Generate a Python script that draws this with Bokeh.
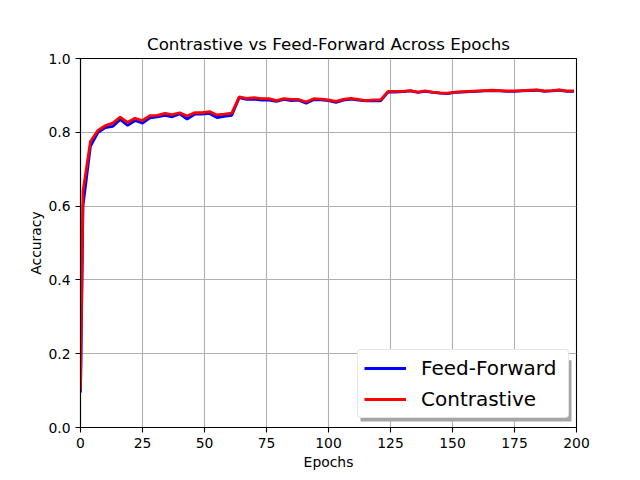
from bokeh.plotting import figure
from bokeh.models import (FixedTicker, PrintfTickFormatter, Legend, LegendItem,
                          BoxAnnotation, Range1d)
from bokeh.embed import file_html
from bokeh.resources import INLINE

# ---------------- data ----------------
epochs = [0, 1, 4, 7, 10, 13, 16, 19, 22, 25,
          28, 31, 34, 37, 40, 43, 46, 49, 52, 55, 58, 61,
          64, 67, 70, 73, 76, 79, 82, 85, 88, 91, 94, 97,
          100, 103, 106, 109, 112, 115, 118, 121, 124, 127, 130, 133,
          136, 139, 142, 145, 148, 151, 154, 157, 160, 163, 166, 169,
          172, 175, 178, 181, 184, 187, 190, 193, 196, 199]

feed_forward = [0.095, 0.600, 0.762, 0.799, 0.813, 0.816, 0.835, 0.819, 0.832, 0.825,
                0.839, 0.842, 0.846, 0.842, 0.850, 0.836, 0.849, 0.849, 0.851, 0.840, 0.843, 0.846,
                0.894, 0.889, 0.890, 0.887, 0.887, 0.884, 0.889, 0.886, 0.887, 0.879, 0.888, 0.888,
                0.886, 0.881, 0.887, 0.890, 0.887, 0.885, 0.886, 0.885, 0.909, 0.909, 0.910, 0.912,
                0.908, 0.911, 0.908, 0.906, 0.905, 0.908, 0.909, 0.910, 0.911, 0.912, 0.913, 0.912,
                0.911, 0.911, 0.912, 0.913, 0.914, 0.911, 0.912, 0.914, 0.911, 0.911]

contrastive = [0.100, 0.640, 0.775, 0.805, 0.818, 0.825, 0.841, 0.827, 0.838, 0.832,
               0.845, 0.846, 0.851, 0.848, 0.853, 0.844, 0.853, 0.853, 0.856, 0.847, 0.849, 0.852,
               0.896, 0.892, 0.894, 0.891, 0.891, 0.886, 0.891, 0.889, 0.889, 0.882, 0.891, 0.890,
               0.888, 0.884, 0.889, 0.892, 0.889, 0.886, 0.888, 0.888, 0.911, 0.911, 0.911, 0.913,
               0.909, 0.912, 0.909, 0.907, 0.906, 0.909, 0.910, 0.911, 0.912, 0.913, 0.914, 0.913,
               0.912, 0.912, 0.913, 0.914, 0.915, 0.912, 0.913, 0.915, 0.912, 0.912]

x_ticks = [0, 25, 50, 75, 100, 125, 150, 175, 200]
y_ticks = [0.0, 0.2, 0.4, 0.6, 0.8, 1.0]

title_text = "Contrastive vs Feed-Forward Across Epochs"
x_label = "Epochs"
y_label = "Accuracy"
series_names = ["Feed-Forward", "Contrastive"]
series_colors = ["#0000ff", "#ff0000"]

FONT = "DejaVu Sans"

p = figure(width=632, height=472, output_backend="svg", toolbar_location=None,
           x_range=Range1d(0, 200), y_range=Range1d(0, 1),
           min_border_left=80, min_border_right=56,
           min_border_top=58, min_border_bottom=45,
           title=title_text)

p.title.align = "center"
p.title.text_font = FONT
p.title.text_font_size = "16.7px"
p.title.text_font_style = "normal"
p.title.text_color = "black"
p.title.standoff = 10

p.background_fill_color = "white"
p.border_fill_color = "white"
p.outline_line_color = "black"
p.outline_line_width = 1.1
p.outline_line_alpha = 1.0

for ax in (p.xaxis[0], p.yaxis[0]):
    ax.axis_label_text_font = FONT
    ax.axis_label_text_font_size = "13.9px"
    ax.axis_label_text_font_style = "normal"
    ax.axis_label_text_color = "black"
    ax.major_label_text_font = FONT
    ax.major_label_text_font_size = "13.9px"
    ax.major_label_text_color = "black"
    ax.major_tick_in = 0
    ax.major_tick_out = 5
    ax.major_tick_line_width = 1.1
    ax.minor_tick_line_color = None
    ax.axis_line_width = 1.1
    ax.major_label_standoff = 5

p.xaxis[0].ticker = FixedTicker(ticks=x_ticks)
p.xaxis[0].formatter = PrintfTickFormatter(format="%d")
p.xaxis[0].axis_label = x_label
p.xaxis[0].axis_label_standoff = 3

p.yaxis[0].ticker = FixedTicker(ticks=y_ticks)
p.yaxis[0].formatter = PrintfTickFormatter(format="%.1f")
p.yaxis[0].axis_label = y_label
p.yaxis[0].axis_label_standoff = 1

for g in (p.xgrid[0], p.ygrid[0]):
    g.grid_line_color = "#b0b0b0"
    g.grid_line_width = 1.1
    g.grid_line_alpha = 1.0
p.xgrid[0].ticker = FixedTicker(ticks=x_ticks)
p.ygrid[0].ticker = FixedTicker(ticks=y_ticks)

r_ff = p.line(epochs, feed_forward, line_color=series_colors[0], line_width=2.8)
r_ct = p.line(epochs, contrastive, line_color=series_colors[1], line_width=2.8)

# legend shadow (decoration)
shadow = BoxAnnotation(left=112.9, right=198.0, bottom=0.016, top=0.182,
                       fill_color="#a6a6a6", fill_alpha=1.0, line_color=None)
p.add_layout(shadow)

legend = Legend(items=[LegendItem(label=series_names[0], renderers=[r_ff]),
                       LegendItem(label=series_names[1], renderers=[r_ct])],
                location=(277, 9))
legend.label_text_font = FONT
legend.label_text_font_size = "20px"
legend.label_text_color = "black"
legend.label_height = 20
legend.glyph_height = 20
legend.glyph_width = 42
legend.label_width = 141
legend.label_standoff = 15
legend.spacing = 7
legend.padding = 6
legend.margin = 0
legend.border_line_color = "#cccccc"
legend.border_line_width = 1
legend.background_fill_color = "white"
legend.background_fill_alpha = 1.0
try:
    legend.border_radius = 4
except Exception:
    pass
p.add_layout(legend, "center")

open("out.html", "w").write(file_html(p, INLINE))
